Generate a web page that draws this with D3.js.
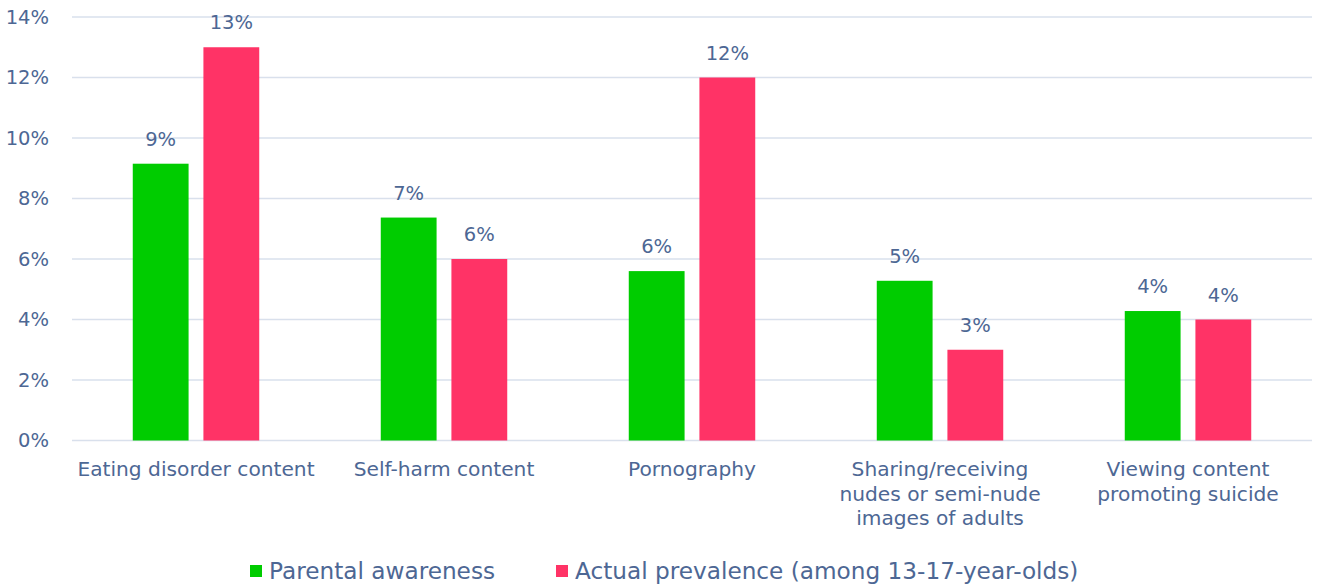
<!DOCTYPE html>
<html>
<head>
<meta charset="utf-8">
<script src="https://cdn.jsdelivr.net/npm/d3@7"></script>
<style>
  body { margin: 0; background: #fff; }
  svg text { font-family: "DejaVu Sans", sans-serif; fill: #4d6794; }
</style>
</head>
<body>
<svg id="chart" width="1320" height="586"></svg>
<script>
const categories = [
  ["Eating disorder content"],
  ["Self-harm content"],
  ["Pornography"],
  ["Sharing/receiving", "nudes or semi-nude", "images of adults"],
  ["Viewing content", "promoting suicide"]
];
const seriesNames = ["Parental awareness", "Actual prevalence (among 13-17-year-olds)"];
const parentalAwareness = [0.0915, 0.0737, 0.056, 0.0528, 0.0428];
const actualPrevalence = [0.13, 0.06, 0.12, 0.03, 0.04];
const yTicks = [0, 0.02, 0.04, 0.06, 0.08, 0.10, 0.12, 0.14];
const colors = ["#00cc00", "#ff3366"];

const svg = d3.select('#chart');
const margin = { left: 72, right: 8, top: 17, bottom: 145 };
const width = 1320, height = 586;

const x0 = d3.scaleBand()
  .domain(d3.range(categories.length))
  .range([margin.left, width - margin.right]);

const x1 = d3.scaleBand()
  .domain([0, 1])
  .range([0, x0.bandwidth()])
  .paddingInner(0.21)
  .paddingOuter(0.86);

const y = d3.scaleLinear()
  .domain([0, 0.14])
  .range([height - margin.bottom - 0.5, margin.top]);

// gridlines
svg.append('g')
  .selectAll('line')
  .data(yTicks)
  .join('line')
  .attr('x1', margin.left)
  .attr('x2', width - margin.right)
  .attr('y1', d => y(d))
  .attr('y2', d => y(d))
  .attr('stroke', '#d9e0ec')
  .attr('stroke-width', 1.5);

// y labels
svg.append('g')
  .selectAll('text')
  .data(yTicks)
  .join('text')
  .attr('x', 49)
  .attr('y', d => y(d))
  .attr('dy', '0.35em')
  .attr('text-anchor', 'end')
  .style('font-size', '19.5px')
  .text(d3.format('.0%'));

const values = [parentalAwareness, actualPrevalence];
const bars = [];
categories.forEach((c, i) => {
  values.forEach((v, s) => bars.push({ cat: i, s, v: v[i] }));
});

svg.append('g')
  .selectAll('rect')
  .data(bars)
  .join('rect')
  .attr('x', d => x0(d.cat) + x1(d.s))
  .attr('width', x1.bandwidth())
  .attr('y', d => y(d.v))
  .attr('height', d => y(0) - y(d.v))
  .attr('fill', d => colors[d.s]);

// value labels
svg.append('g')
  .selectAll('text')
  .data(bars)
  .join('text')
  .attr('x', d => x0(d.cat) + x1(d.s) + x1.bandwidth() / 2)
  .attr('y', d => y(d.v) - 18)
  .attr('text-anchor', 'middle')
  .style('font-size', '19.5px')
  .text(d => d3.format('.0%')(d.v));

// category labels
const catG = svg.append('g')
  .selectAll('text')
  .data(categories)
  .join('text')
  .attr('text-anchor', 'middle')
  .style('font-size', '20.2px')
  .attr('transform', (d, i) => `translate(${x0(i) + x0.bandwidth() / 2},476)`);

catG.selectAll('tspan')
  .data(d => d)
  .join('tspan')
  .attr('x', 0)
  .attr('y', (d, i) => i * 24.5)
  .text(d => d);

// legend
const legendX = [250, 556];
const legend = svg.append('g')
  .selectAll('g')
  .data(seriesNames)
  .join('g')
  .attr('transform', (d, i) => `translate(${legendX[i]},571)`);

legend.append('rect')
  .attr('x', 0)
  .attr('y', -6)
  .attr('width', 12)
  .attr('height', 12)
  .attr('fill', (d, i) => colors[i]);

legend.append('text')
  .attr('x', 19)
  .attr('dy', '0.35em')
  .style('font-size', '23.2px')
  .text(d => d);
</script>
</body>
</html>
